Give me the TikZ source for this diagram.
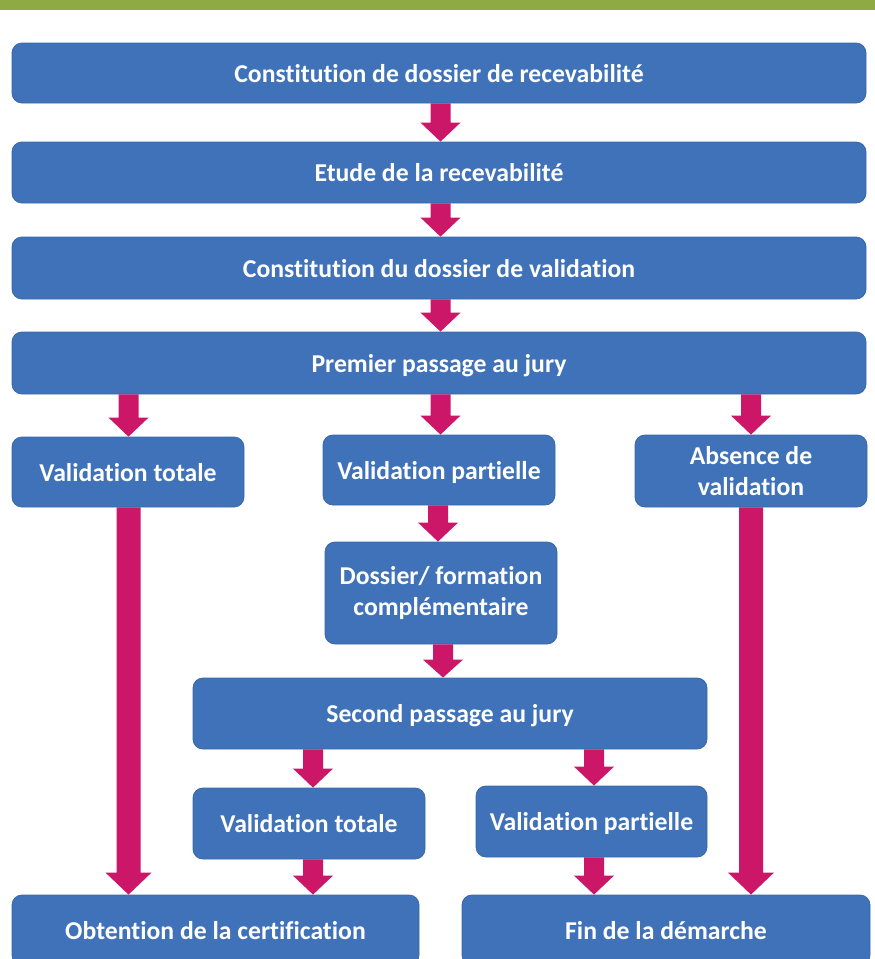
\documentclass[tikz,border=0pt]{standalone}
\usepackage{fontspec}
\setmainfont{Carlito}[Ligatures={NoCommon,NoContextual}]
\usetikzlibrary{calc}
\definecolor{boxblue}{HTML}{3F72B8}
\definecolor{boxedge}{HTML}{3868A9}
\definecolor{mag}{HTML}{CC1769}
\definecolor{barg}{HTML}{8DAA44}
\newcommand\blockarrow[6]{%
  \fill[mag] let \p1=(#1.south -| #3), \p2=(#2.north -| #3) in
   (\x1-#4,\y1) -- (\x1+#4,\y1) -- (\x1+#4,\y2+#6) -- (\x1+#5,\y2+#6)
   -- (\x1,\y2) -- (\x1-#5,\y2+#6) -- (\x1-#4,\y2+#6) -- cycle;}
\tikzset{
  box/.style={draw=boxedge, line width=0.8pt, fill=boxblue, rounded corners=10pt,
    text=white, font=\fontsize{25.7}{31}\selectfont\bfseries, align=center,
    inner sep=0pt},
  oneline/.style={box, text height=18pt, text depth=0pt},
  twoline/.style={box},
}
\begin{document}
\begin{tikzpicture}[x=1pt,y=-1pt]
\useasboundingbox (0,0) rectangle (875,959);
\clip (0,0) rectangle (875,959);
\fill[white] (0,0) rectangle (875,959);
\fill[barg] (0,0) rectangle (875,10);

\node[oneline, minimum width=854pt, minimum height=60pt] (b1) at (439,73) {Constitution de dossier de recevabilité};
\node[oneline, minimum width=854pt, minimum height=61pt] (b2) at (439,172.5) {Etude de la recevabilité};
\node[oneline, minimum width=854pt, minimum height=62pt] (b3) at (439,268) {Constitution du dossier de validation};
\node[oneline, minimum width=854pt, minimum height=62pt] (b4) at (439,363) {Premier passage au jury};

\node[oneline, minimum width=232pt, minimum height=70pt] (vt1) at (128,472) {Validation totale};
\node[oneline, minimum width=232pt, minimum height=70pt] (vp1) at (439,470) {Validation partielle};
\node[twoline, minimum width=232pt, minimum height=72pt] (ab) at (751,471) {Absence de\\validation};
\node[twoline, minimum width=232pt, minimum height=102pt] (df) at (441,593) {Dossier/ formation\\complémentaire};
\node[oneline, minimum width=514pt, minimum height=71pt] (sp) at (450,713.5) {Second passage au jury};
\node[oneline, minimum width=232pt, minimum height=71pt] (vt2) at (309,823.5) {Validation totale};
\node[oneline, minimum width=231pt, minimum height=71pt] (vp2) at (591.5,821.5) {Validation partielle};
\node[oneline, minimum width=407pt, minimum height=70pt] (ob) at (215.5,930) {Obtention de la certification};
\node[oneline, minimum width=408pt, minimum height=70pt] (fn) at (666,930) {Fin de la démarche};

\coordinate (cT) at (440.5,0);
\coordinate (cL) at (128.5,0);
\coordinate (cR) at (751,0);
\coordinate (cD1) at (438,0);
\coordinate (cD2) at (443,0);
\coordinate (cS1) at (313,0);
\coordinate (cS2) at (594,0);

\blockarrow{b1}{b2}{cT}{10pt}{20pt}{19pt}
\blockarrow{b2}{b3}{cT}{10pt}{20pt}{19pt}
\blockarrow{b3}{b4}{cT}{10pt}{20pt}{19pt}
\blockarrow{b4}{vt1}{cL}{10pt}{20pt}{19pt}
\blockarrow{b4}{vp1}{cT}{10pt}{20pt}{19pt}
\blockarrow{b4}{ab}{cR}{10pt}{20pt}{19pt}
\blockarrow{vp1}{df}{cD1}{10pt}{20pt}{19pt}
\blockarrow{df}{sp}{cD2}{10pt}{20pt}{18pt}
\blockarrow{sp}{vt2}{cS1}{10pt}{20pt}{19pt}
\blockarrow{sp}{vp2}{cS2}{10pt}{20pt}{19pt}
\blockarrow{vt2}{ob}{cS1}{10pt}{20pt}{19pt}
\blockarrow{vp2}{fn}{cS2}{10pt}{20pt}{19pt}
\blockarrow{vt1}{ob}{cL}{12pt}{23pt}{22pt}
\blockarrow{ab}{fn}{cR}{12pt}{23pt}{22pt}
\end{tikzpicture}
\end{document}
